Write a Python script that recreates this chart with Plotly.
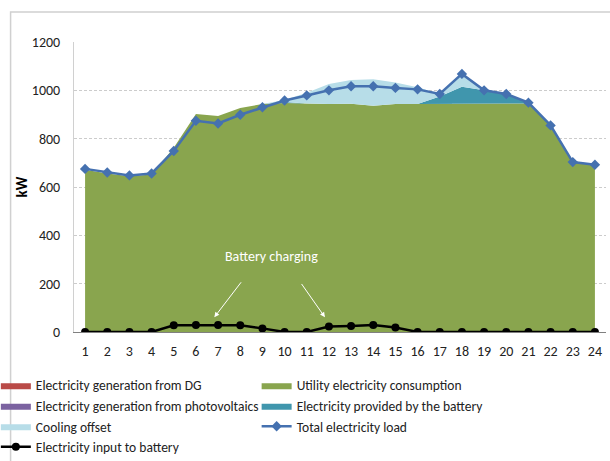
import plotly.graph_objects as go

hours = list(range(1, 25))
dg = [0] * 24
pv = [0] * 24
utility = [671, 656, 645, 652, 762, 902, 894, 927, 943, 948, 946, 943, 944, 936, 943, 943, 943, 943, 943, 943, 946, 855, 703, 692]
battery = [0, 0, 0, 0, 0, 0, 0, 0, 0, 4, 0, 0, 0, 0, 0, 0, 31, 72, 57, 42, 3, 0, 0, 0]
cooling = [0, 0, 0, 0, 0, 0, 0, 0, 0, 8, 44, 83, 99, 110, 89, 70, 11, 53, 0, 0, 0, 0, 0, 0]
total_load = [675, 660, 648, 656, 749, 874, 863, 899, 930, 958, 979, 1000, 1017, 1017, 1010, 1004, 985, 1068, 1000, 985, 949, 855, 703, 692]
charging = [0, 0, 0, 0, 28, 29, 29, 28, 15, 0, 0, 23, 25, 29, 19, 0, 0, 0, 0, 0, 0, 0, 0, 0]
y_ticks = [0, 200, 400, 600, 800, 1000, 1200]

FONT = "Carlito, 'Liberation Sans Narrow', 'Arial Narrow', sans-serif"

fig = go.Figure()

def area(name, vals, color, leg):
    fig.add_trace(go.Scatter(x=hours, y=vals, name=name, mode="lines",
                             stackgroup="one", line=dict(width=0, color=color),
                             fillcolor=color, legend=leg, legendgroup=name))

area("Electricity generation from DG", dg, "#b94a47", "legend")
area("Utility electricity consumption", utility, "#89a54e", "legend2")
area("Electricity generation from photovoltaics", pv, "#7b62a0", "legend")
area("Electricity provided by the battery", battery, "#4096ad", "legend2")
area("Cooling offset", cooling, "#b7dde8", "legend")

fig.add_trace(go.Scatter(x=hours, y=total_load, name="Total electricity load",
                         mode="lines+markers", legend="legend2",
                         legendgroup="total",
                         line=dict(color="#4571b0", width=2.5),
                         marker=dict(symbol="diamond", size=8, color="#4571b0")))
fig.add_trace(go.Scatter(x=hours, y=charging, name="Electricity input to battery",
                         mode="lines+markers", legend="legend",
                         legendgroup="input",
                         line=dict(color="#000000", width=2.5),
                         marker=dict(symbol="circle", size=8, color="#000000")))

fig.add_annotation(x=9.43, y=312, xref="x", yref="y", text="Battery charging",
                   showarrow=False, font=dict(family=FONT, size=14, color="white"))
fig.add_annotation(x=6.83, y=61, ax=8.09, ay=212, xref="x", yref="y",
                   axref="x", ayref="y", text="", showarrow=True,
                   arrowhead=2, arrowsize=1, arrowwidth=1, arrowcolor="white")
fig.add_annotation(x=11.82, y=61, ax=10.72, ay=205, xref="x", yref="y",
                   axref="x", ayref="y", text="", showarrow=True,
                   arrowhead=2, arrowsize=1, arrowwidth=1, arrowcolor="white")
fig.add_annotation(x=-0.0986, y=0.5, xref="paper", yref="paper", text="<b>kW</b>",
                   textangle=-90, showarrow=False, xanchor="center", yanchor="middle",
                   font=dict(family=FONT, size=15, color="black"))

# outer chart frame
fig.add_shape(type="rect", xref="paper", yref="paper",
              x0=-0.1192, x1=1.05, y0=-0.5, y1=1.1034,
              line=dict(color="#d0d0d0", width=1.5), fillcolor="rgba(0,0,0,0)",
              layer="below")

leg_common = dict(orientation="v", yanchor="top", xanchor="left",
                  traceorder="normal", itemwidth=30, tracegroupgap=2,
                  font=dict(family=FONT, size=13.5, color="#222222"),
                  bgcolor="rgba(0,0,0,0)")

fig.update_layout(
    width=610, height=461,
    margin=dict(l=74, r=4, t=42, b=129, autoexpand=False),
    paper_bgcolor="white", plot_bgcolor="white",
    font=dict(family=FONT, size=14, color="#222222"),
    showlegend=True,
    legend=dict(x=-0.1469, y=-0.1306, **leg_common),
    legend2=dict(x=0.3433, y=-0.1306, **leg_common),
)
fig.update_xaxes(range=[0.5, 24.5], tickmode="array", tickvals=hours,
                 ticktext=[str(h) for h in hours], showgrid=False,
                 showline=True, linecolor="#808080", linewidth=1,
                 ticks="", ticklabelstandoff=6, zeroline=False)
fig.update_yaxes(range=[0, 1200], tickmode="array", tickvals=y_ticks,
                 showgrid=True, gridcolor="#cccccc", griddash="3px,2px", gridwidth=1,
                 showline=True, linecolor="#d0d0d0", linewidth=1,
                 ticks="", ticklabelstandoff=10, zeroline=False)

fig.write_html("out.html", config={"displayModeBar": False},
               post_script="document.body.style.margin='0px';")
